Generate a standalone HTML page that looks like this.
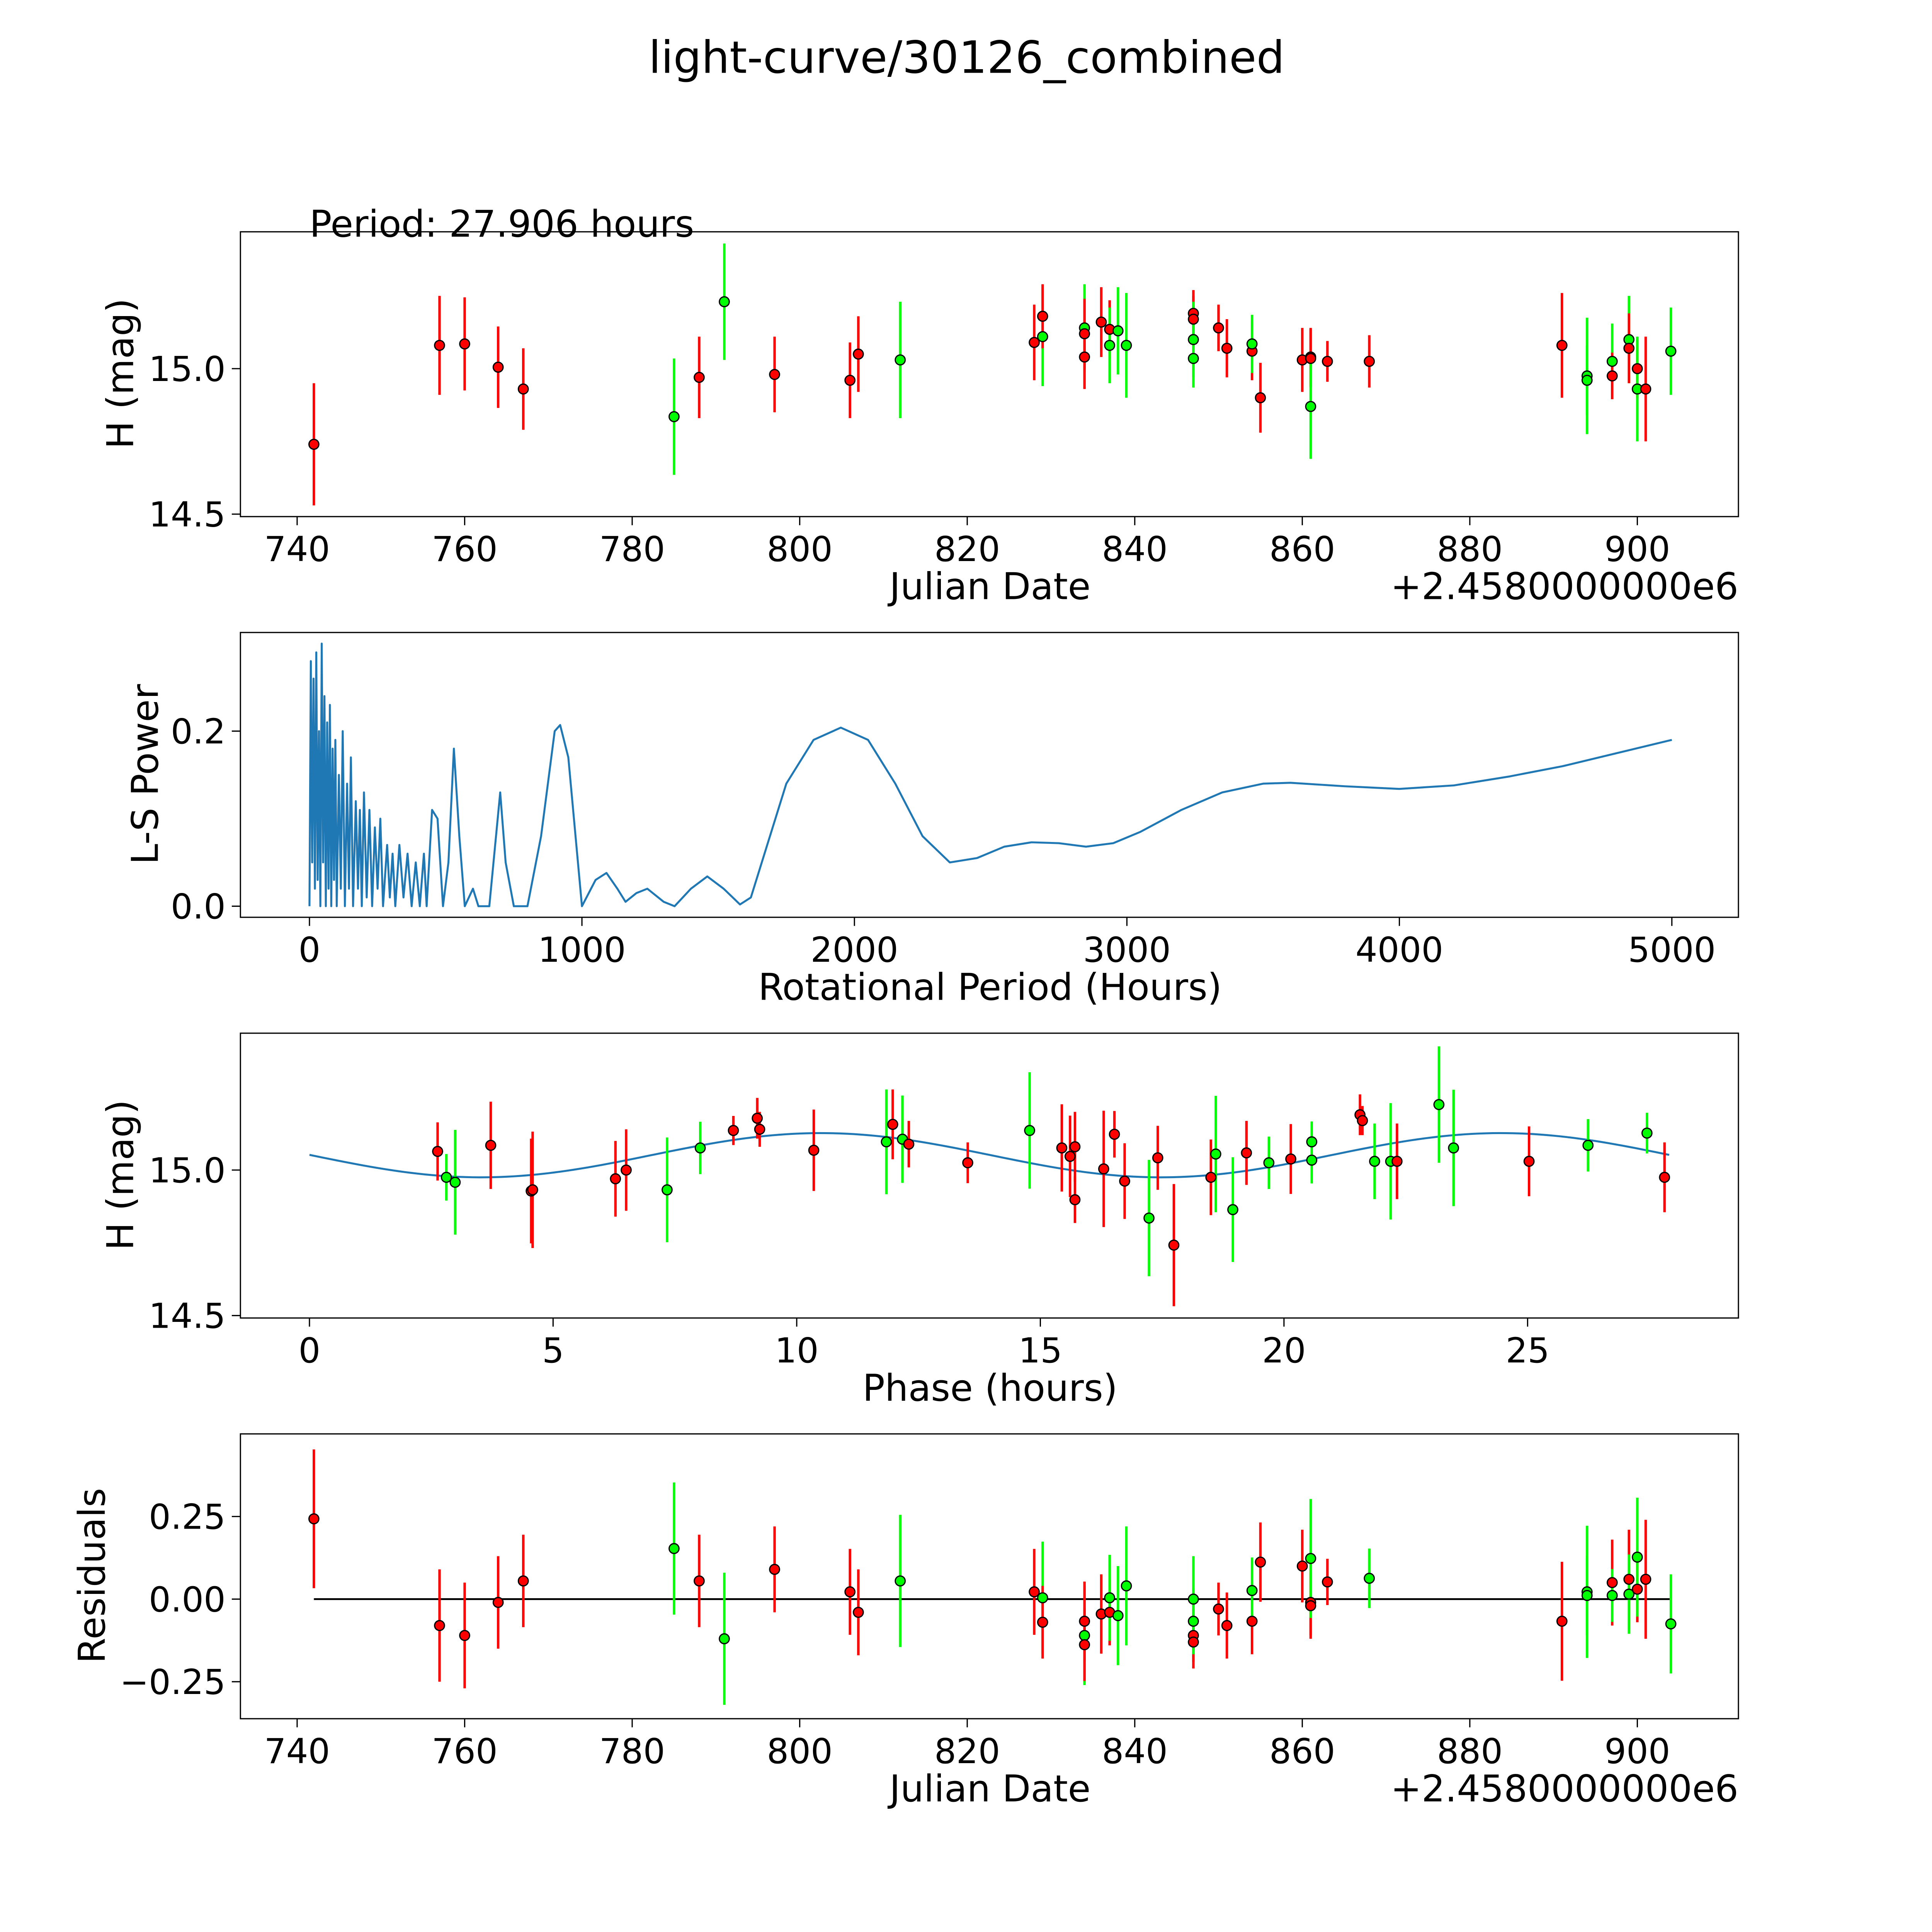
<!DOCTYPE html>
<html><head><meta charset="utf-8">
<style>html,body{margin:0;padding:0;background:#fff;overflow:hidden;width:100vw;height:100vh}svg{display:block;width:100vw;height:100vh}text{font-family:"DejaVu Sans","Liberation Sans",sans-serif;fill:#000}</style>
</head><body>
<svg id="fig" xmlns="http://www.w3.org/2000/svg" viewBox="0 0 1567 1567" preserveAspectRatio="none">
<rect x="0" y="0" width="1567" height="1567" fill="#fff"/>
<text x="784" y="59" font-size="36" text-anchor="middle">light-curve/30126_combined</text>
</svg>
<script>
// ---- light-curve data ----
const lcJD  = [742,757,760,764,767,785,788,791,797,806,807,812,828,829,829,834,834,834,836,837,837,838,839,847,847,847,847,850,851,854,854,855,860,861,861,861,863,868,891,894,894,897,897,899,899,900,900,901,904];
const lcMag = [14.74,15.08,15.085,15.005,14.93,14.835,14.97,15.23,14.98,14.96,15.05,15.03,15.09,15.11,15.18,15.14,15.12,15.04,15.16,15.135,15.08,15.13,15.08,15.19,15.17,15.10,15.035,15.14,15.07,15.06,15.085,14.90,15.03,15.04,15.035,14.87,15.025,15.025,15.08,14.975,14.96,15.025,14.975,15.10,15.07,15.00,14.93,14.93,15.06];
const lcErr = [0.21,0.17,0.16,0.14,0.14,0.2,0.14,0.2,0.13,0.13,0.13,0.2,0.13,0.17,0.11,0.15,0.12,0.11,0.12,0.1,0.13,0.15,0.18,0.08,0.08,0.13,0.1,0.08,0.1,0.1,0.1,0.12,0.11,0.1,0.1,0.18,0.07,0.09,0.18,0.2,0.12,0.13,0.08,0.15,0.12,0.1,0.18,0.18,0.15];
const lcCol = ['r','r','r','r','r','g','r','g','r','r','r','g','r','g','r','g','r','r','r','r','g','g','g','r','r','g','g','r','r','r','g','r','r','r','r','g','r','r','r','g','g','g','r','g','r','r','g','r','g'];
// ---- residuals ----
const resVal = [0.243,-0.08,-0.11,-0.01,0.055,0.153,0.055,-0.12,0.09,0.022,-0.04,0.055,0.022,0.004,-0.07,-0.11,-0.067,-0.138,-0.045,-0.04,0.004,-0.05,0.04,-0.11,-0.13,0,-0.067,-0.03,-0.08,-0.067,0.026,0.112,0.1,-0.01,-0.02,0.123,0.052,0.063,-0.067,0.022,0.011,0.05,0.011,0.06,0.015,0.03,0.127,0.06,-0.075];
const resCol = ['r','r','r','r','r','g','r','g','r','r','r','g','r','g','r','g','r','r','r','r','g','g','g','r','r','g','g','r','r','r','g','r','r','r','r','g','r','g','r','g','g','r','g','r','g','r','g','r','g'];
// ---- phase-folded data ----
const phHour = [2.63,2.81,2.99,3.72,4.55,4.58,6.28,6.5,7.34,8.02,8.7,9.19,9.24,10.35,11.84,11.97,12.17,12.3,13.51,14.78,15.44,15.61,15.71,15.71,16.52,16.3,16.73,17.23,17.41,17.74,18.5,18.6,18.95,19.23,19.69,20.14,20.57,20.57,21.56,21.61,21.86,22.19,22.32,23.18,23.48,25.03,26.24,27.45,27.81];
const phMag  = [15.064,14.975,14.958,15.085,14.928,14.932,14.97,15.0,14.932,15.076,15.136,15.178,15.14,15.068,15.097,15.157,15.106,15.089,15.025,15.136,15.076,15.047,15.08,14.898,15.123,15.004,14.962,14.835,15.042,14.742,14.975,15.055,14.864,15.059,15.025,15.038,15.034,15.097,15.19,15.17,15.03,15.03,15.03,15.225,15.076,15.03,15.085,15.127,14.975];
const phErr  = [0.1,0.08,0.18,0.15,0.18,0.2,0.13,0.14,0.18,0.09,0.05,0.07,0.06,0.14,0.18,0.12,0.15,0.08,0.07,0.2,0.15,0.14,0.12,0.08,0.08,0.2,0.13,0.2,0.11,0.21,0.13,0.2,0.18,0.11,0.09,0.12,0.08,0.07,0.07,0.05,0.13,0.2,0.13,0.2,0.2,0.12,0.09,0.07,0.12];
const phCol  = ['r','g','g','r','r','r','r','r','g','g','r','r','r','r','g','r','g','r','r','g','r','r','r','r','r','r','r','g','r','r','r','g','g','r','g','r','g','g','r','r','g','g','r','g','g','r','g','g','r'];
const fitPeriod = [27.906];
const fitParams = [15.051, 0.076, -3.157]; // offset, amplitude, phase
// ---- periodogram ----
const lsPeriod = [0,5,10,15,20,25,30,35,40,45,50,55,60,65,70,75,80,85,90,95,100,108,115,122,130,138,145,152,160,170,178,185,192,200,210,220,230,240,250,260,270,285,295,305,315,330,345,360,375,390,405,420,430,450,470,490,510,530,550,570,600,620,660,700,720,750,800,850,900,920,950,1000,1050,1090,1130,1160,1200,1240,1300,1340,1400,1460,1520,1580,1620,1680,1750,1850,1950,2050,2150,2250,2350,2450,2550,2650,2750,2850,2950,3050,3200,3350,3500,3600,3800,4000,4200,4400,4600,4800,5000];
const lsPower  = [0,0.28,0.05,0.26,0.02,0.29,0.03,0.2,0,0.3,0.05,0.24,0,0.21,0.02,0.23,0,0.18,0.03,0.19,0,0.15,0.02,0.2,0,0.14,0.02,0.17,0,0.12,0.02,0.11,0,0.13,0.01,0.11,0,0.09,0.02,0.1,0,0.07,0.01,0.06,0,0.07,0.01,0.06,0,0.05,0,0.06,0,0.11,0.10,0,0.05,0.18,0.08,0,0.02,0,0,0.13,0.05,0,0,0.08,0.2,0.207,0.17,0,0.03,0.038,0.02,0.005,0.015,0.02,0.005,0,0.02,0.034,0.02,0.002,0.01,0.07,0.14,0.19,0.204,0.19,0.14,0.08,0.05,0.055,0.068,0.073,0.072,0.068,0.072,0.085,0.11,0.13,0.14,0.141,0.137,0.134,0.138,0.148,0.16,0.175,0.19];

const NS='http://www.w3.org/2000/svg';
const svg=document.getElementById('fig');
function el(tag,attrs,parent){const e=document.createElementNS(NS,tag);for(const k in attrs)e.setAttribute(k,attrs[k]);(parent||svg).appendChild(e);return e;}
function txt(s,attrs,parent){const t=el('text',attrs,parent);t.textContent=s;return t;}
function lin(d0,d1,r0,r1){return v=>r0+(v-d0)*(r1-r0)/(d1-d0);}
const COL={r:'#ff0000',g:'#00ff00'};

function axes(name,top,xs,ys,xticks,yticks,xlab,ylab,ylabX,offset){
  const g=el('g',{});
  
  
  const frame=el('rect',{x:195,y:top,width:1215,height:231,fill:'none',stroke:'#000','stroke-width':1},g);
  
  
  xticks.forEach(t=>{const x=xs(t[0]);el('line',{x1:x,x2:x,y1:top+231,y2:top+238,stroke:'#000','stroke-width':1},g);
    const l=txt(t[1],{x:x,y:top+267,'font-size':28,'text-anchor':'middle'},g);
    
    });
  yticks.forEach(t=>{const y=ys(t[0]);el('line',{x1:188,x2:195,y1:y,y2:y,stroke:'#000','stroke-width':1},g);
    const l=txt(t[1],{x:183,y:y+10,'font-size':28,'text-anchor':'end'},g);
    
    });
  const xl=txt(xlab,{x:803,y:top+298,'font-size':30,'text-anchor':'middle'},g);
  
  
  const cy=top+115;
  const yl=txt(ylab,{x:ylabX,y:cy,'font-size':30,'text-anchor':'middle',transform:`rotate(-90 ${ylabX} ${cy})`},g);
  
  
  if(offset){const o=txt(offset,{x:1410,y:top+298,'font-size':30,'text-anchor':'end'},g);
    
    }
  return g;
}
function points(g,xs,ys,X,Y,E,C,name){
  for(let i=0;i<X.length;i++){
    const x=xs(X[i]),c=COL[C[i]];
    const b=el('line',{x1:x,x2:x,y1:ys(Y[i]-E[i]),y2:ys(Y[i]+E[i]),stroke:c,'stroke-width':2},g);
    
    
  }
  for(let i=0;i<X.length;i++){
    const p=el('circle',{cx:xs(X[i]),cy:ys(Y[i]),r:4,fill:COL[C[i]],stroke:'#000','stroke-width':1},g);
    
    
  }
}
const jdTicks=[740,760,780,800,820,840,860,880,900].map(v=>[v,String(v)]);
// Panel 1
const xJD=lin(740,900,241,1328);
const y1=lin(15.0,14.5,299,417);
const g1=axes('light-curve-axes',188,xJD,y1,jdTicks,[[14.5,'14.5'],[15.0,'15.0']],'Julian Date','H (mag)',108,'+2.4580000000e6');
points(g1,xJD,y1,lcJD,lcMag,lcErr,lcCol,'light-curve');
const per=txt('Period: '+fitPeriod[0].toFixed(3)+' hours',{x:251,y:192,'font-size':30});


// Panel 2
const xP=lin(0,5000,251,1356);
const y2=lin(0,0.2,735,593);
const g2=axes('periodogram-axes',513,xP,y2,[0,1000,2000,3000,4000,5000].map(v=>[v,String(v)]),[[0,'0.0'],[0.2,'0.2']],'Rotational Period (Hours)','L-S Power',128);
let d='';lsPeriod.forEach((p,i)=>{d+=(i?'L':'M')+xP(p).toFixed(2)+' '+y2(lsPower[i]).toFixed(2);});
const ls=el('path',{d:d,fill:'none',stroke:'#1f77b4','stroke-width':1.6,'stroke-linejoin':'round'},g2);


// Panel 3
const xPh=lin(0,25,251,1239);
const y3=lin(15.0,14.5,949,1067);
const g3=axes('phase-axes',838,xPh,y3,[0,5,10,15,20,25].map(v=>[v,String(v)]),[[14.5,'14.5'],[15.0,'15.0']],'Phase (hours)','H (mag)',108);
let d3='';for(let i=0;i<=200;i++){const t=fitPeriod[0]*i/200;const m=fitParams[0]+fitParams[1]*Math.sin(2*Math.PI*2*t/fitPeriod[0]+fitParams[2]);d3+=(i?'L':'M')+xPh(t).toFixed(2)+' '+y3(m).toFixed(2);}
const fit=el('path',{d:d3,fill:'none',stroke:'#1f77b4','stroke-width':1.6},g3);


points(g3,xPh,y3,phHour,phMag,phErr,phCol,'phase');
// Panel 4
const y4=lin(0,0.25,1297,1230);
const g4=axes('residuals-axes',1163,xJD,y4,jdTicks,[[-0.25,'\u22120.25'],[0,'0.00'],[0.25,'0.25']],'Julian Date','Residuals',85,'+2.4580000000e6');
const zl=el('line',{x1:xJD(742),x2:xJD(904),y1:y4(0),y2:y4(0),stroke:'#000','stroke-width':1.5},g4);


points(g4,xJD,y4,lcJD,resVal,lcErr,resCol,'residual');
</script>
</body></html>
